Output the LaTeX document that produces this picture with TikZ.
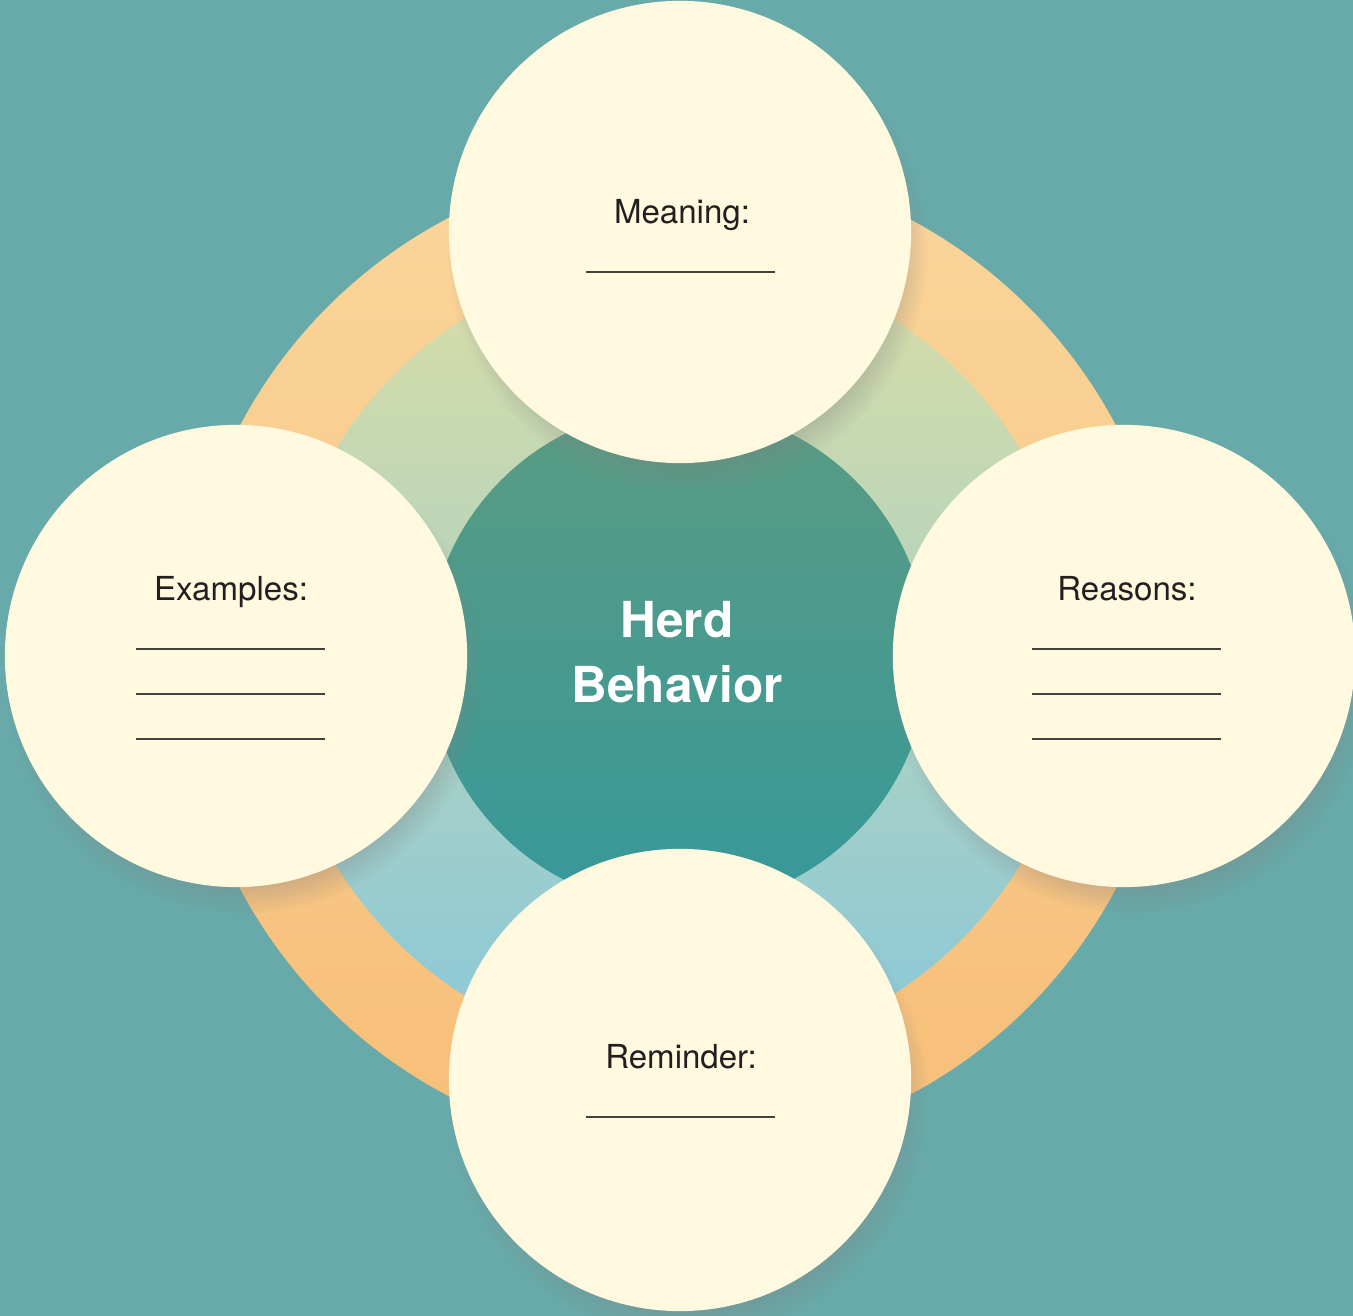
\documentclass[tikz,border=0pt]{standalone}
\usepackage{fontspec}
\setmainfont{TeX Gyre Heros}
\usetikzlibrary{shadows}

\definecolor{bgteal}{HTML}{68AAAA}
\definecolor{cream}{HTML}{FFFADF}
\definecolor{ringtop}{HTML}{FAD59B}
\definecolor{ringbot}{HTML}{F7BE78}
\definecolor{innertop}{HTML}{D9DDA6}
\definecolor{innerbot}{HTML}{88C8DA}
\definecolor{coretop}{HTML}{5A9B82}
\definecolor{corebot}{HTML}{37999A}
\definecolor{inkgray}{HTML}{231F20}

\begin{document}
\begin{tikzpicture}[x=0.01cm, y=-0.01cm,
  bubble/.style={circle, fill=cream, minimum size=4.62cm, inner sep=0pt,
    circular drop shadow={shadow xshift=2pt, shadow yshift=-5pt,
      shadow scale=1.04, opacity=.4}},
  title/.style={anchor=base, text=inkgray, font=\fontsize{9.4}{11}\selectfont},
  blank/.style={draw=inkgray!85, line width=0.45pt}]

% background
\fill[bgteal] (0,0) rectangle (1353,1316);
\useasboundingbox (0,0) rectangle (1353,1316);

% rings behind the bubbles
\shade[top color=ringtop, bottom color=ringbot] (678,657) circle (4.95cm);
\shade[top color=innertop, bottom color=innerbot] (678,657) circle (4.0cm);
\shade[top color=coretop, bottom color=corebot] (678,657) circle (2.5cm);

% the four bubbles
\node[bubble] (meaning)  at (680,232)  {};
\node[bubble] (examples) at (236,656)  {};
\node[bubble] (reasons)  at (1124,656) {};
\node[bubble] (reminder) at (680,1080) {};

% centre
\node[text=white, align=center, inner sep=0pt,
  font=\bfseries\fontsize{14.1}{18.5}\selectfont] (topic) at (677,652)
  {Herd\\Behavior};

% labels and blanks
\node[title] (meaninglabel)  at (682,224)  {Meaning:};
\node[title] (exampleslabel) at (231,601)  {Examples:};
\node[title] (reasonslabel)  at (1127,601) {Reasons:};
\node[title] (reminderlabel) at (681,1069) {Reminder:};

\draw[blank] (586,272) -- (775,272);
\draw[blank] (586,1117) -- (775,1117);
\foreach \y in {649,694,739} {
  \draw[blank] (136,\y) -- (325,\y);
  \draw[blank] (1032,\y) -- (1221,\y);
}

\end{tikzpicture}
\end{document}
